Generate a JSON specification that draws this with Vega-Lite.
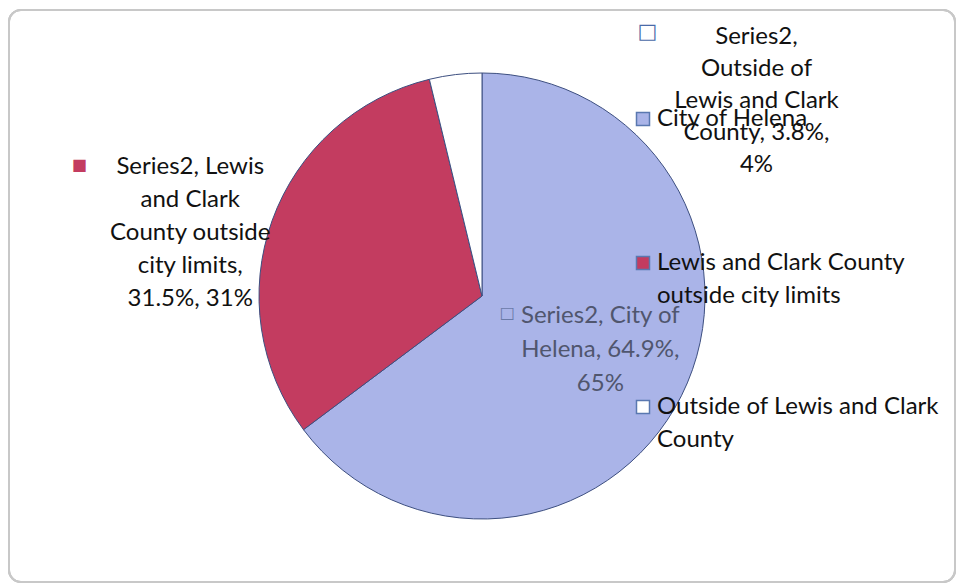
{
  "$schema": "https://vega.github.io/schema/vega-lite/v6.json",
  "autosize": {"type": "none"},
  "width": 946,
  "height": 572,
  "padding": {"left": 9, "top": 10, "right": 3, "bottom": 2},
  "background": "white",
  "config": {
    "view": {"stroke": null},
    "font": "Lato"
  },
  "data": {
    "values": [
      {"slice": "City of Helena", "share": 64.9, "label": "Series2, City of\nHelena, 64.9%,\n65%"},
      {"slice": "Lewis and Clark County outside city limits", "share": 31.5, "label": "Series2, Lewis\nand Clark\nCounty outside\ncity limits,\n31.5%, 31%"},
      {"slice": "Outside of Lewis and Clark County", "share": 3.8, "label": "Series2,\nOutside of\nLewis and Clark\nCounty, 3.8%,\n4%"}
    ]
  },
  "encoding": {
    "theta": {"field": "share", "type": "quantitative", "stack": true},
    "order": {"field": "slice", "type": "nominal", "sort": "ascending"}
  },
  "layer": [
    {
      "mark": {"type": "rect", "fill": null, "stroke": "#c8c8c8", "strokeWidth": 2, "cornerRadius": 12},
      "encoding": {
        "x": {"value": 0},
        "x2": {"value": "width"},
        "y": {"value": 0},
        "y2": {"value": "height"},
        "theta": null,
        "order": null
      }
    },
    {
      "mark": {"type": "arc", "outerRadius": 223, "stroke": "#3d4f80", "strokeWidth": 1},
      "encoding": {
        "color": {
          "field": "slice",
          "type": "nominal",
          "scale": {
            "domain": ["City of Helena", "Lewis and Clark County outside city limits", "Outside of Lewis and Clark County"],
            "range": ["#aab4e8", "#c33c60", "#ffffff"]
          },
          "legend": {
            "title": null,
            "orient": "none",
            "legendX": 622,
            "legendY": 97,
            "padding": 0,
            "symbolType": "square",
            "symbolSize": 169,
            "symbolStrokeColor": "#5a78b0",
            "symbolStrokeWidth": 1.5,
            "labelFont": "Lato",
            "labelFontSize": 24,
            "labelColor": "#111111",
            "labelLimit": 400,
            "labelOffset": 2,
            "rowPadding": 87,
            "labelBaseline": "middle",
            "labelExpr": "datum.label == 'Lewis and Clark County outside city limits' ? ['Lewis and Clark County', 'outside city limits'] : datum.label == 'Outside of Lewis and Clark County' ? ['Outside of Lewis and Clark', 'County'] : [datum.label, ' ']",
            "encode": {"labels": {"update": {"lineHeight": {"value": 33}}}}
          }
        }
      }
    },
    {
      "mark": {"type": "text", "radius": 129, "dx": 3, "dy": -38, "font": "Lato", "fontSize": 24, "color": "#50566e", "lineBreak": "\n", "align": "center", "baseline": "middle", "lineHeight": 34},
      "encoding": {
        "text": {"condition": {"test": "datum.slice == 'City of Helena'", "field": "label"}, "value": ""}
      }
    },
    {
      "mark": {"type": "text", "radius": 310, "dx": 0, "dy": -24, "font": "Lato", "fontSize": 24, "color": "#111111", "lineBreak": "\n", "align": "center", "baseline": "middle", "lineHeight": 33},
      "encoding": {
        "text": {"condition": {"test": "datum.slice == 'Lewis and Clark County outside city limits'", "field": "label"}, "value": ""}
      }
    },
    {
      "mark": {"type": "text", "radius": 240, "dx": 303, "dy": -21, "font": "Lato", "fontSize": 24, "color": "#111111", "lineBreak": "\n", "align": "center", "baseline": "middle", "lineHeight": 32},
      "encoding": {
        "text": {"condition": {"test": "datum.slice == 'Outside of Lewis and Clark County'", "field": "label"}, "value": ""}
      }
    },
    {
      "mark": {"type": "text", "radius": 129, "dx": -90, "dy": -41, "font": "DejaVu Sans", "fontSize": 16, "color": "#6a7aa8", "align": "center", "baseline": "middle"},
      "encoding": {
        "text": {"condition": {"test": "datum.slice == 'City of Helena'", "value": "□"}, "value": ""}
      }
    },
    {
      "mark": {"type": "text", "radius": 310, "dx": -111, "dy": -26, "font": "DejaVu Sans", "fontSize": 16, "color": "#c33c60", "align": "center", "baseline": "middle"},
      "encoding": {
        "text": {"condition": {"test": "datum.slice == 'Lewis and Clark County outside city limits'", "value": "■"}, "value": ""}
      }
    },
    {
      "mark": {"type": "text", "radius": 240, "dx": 194, "dy": -26, "font": "DejaVu Sans", "fontSize": 21, "color": "#4a6aa8", "align": "center", "baseline": "middle"},
      "encoding": {
        "text": {"condition": {"test": "datum.slice == 'Outside of Lewis and Clark County'", "value": "□"}, "value": ""}
      }
    }
  ]
}
